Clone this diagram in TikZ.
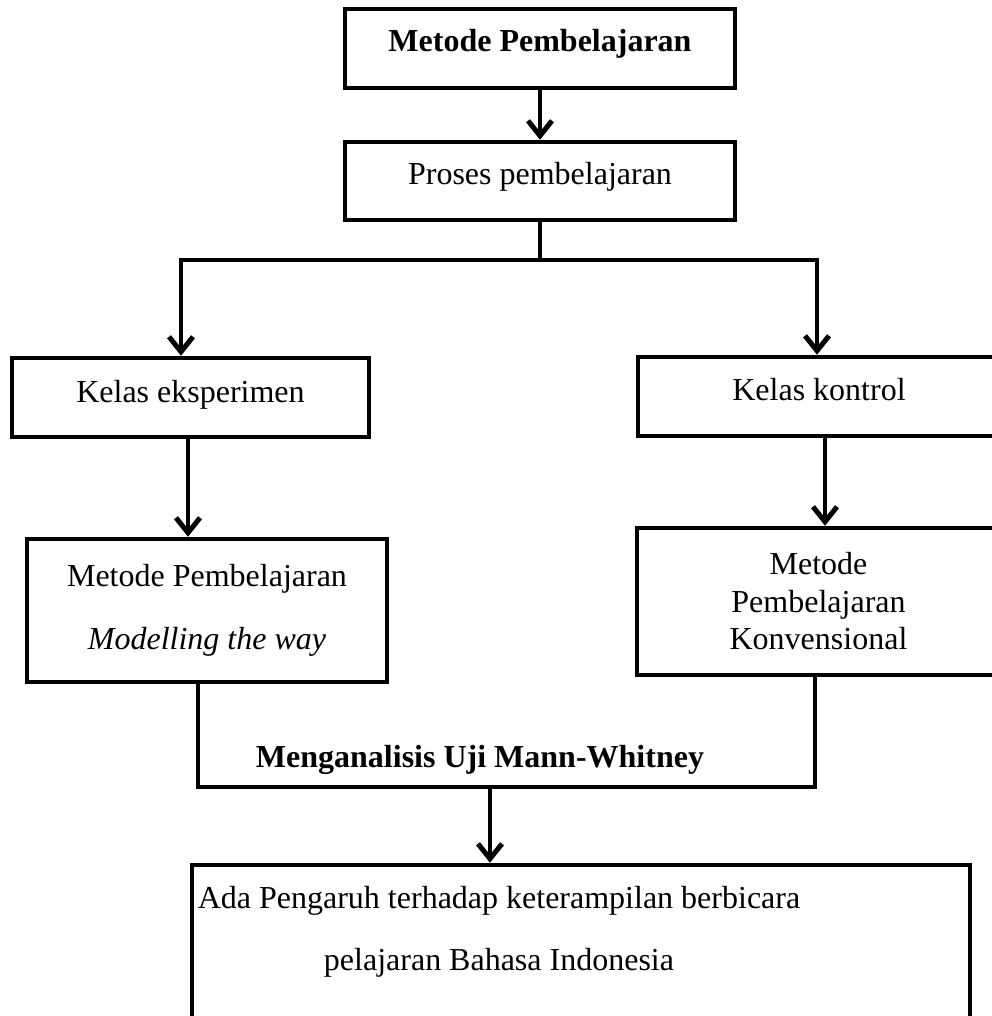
\documentclass[tikz,border=0pt]{standalone}
\usepackage{fontspec}
\setmainfont{Liberation Serif}
\usetikzlibrary{arrows.meta}
\begin{document}
\begin{tikzpicture}[x=1pt,y=-1pt,
  txt/.style={font=\fontsize{32}{37.5}\selectfont},
  btxt/.style={font=\bfseries\fontsize{32}{37.5}\selectfont},
  box/.style={draw,line width=4.5pt,rectangle,inner sep=0pt,align=center,txt},
  conn/.style={line width=4.5pt},
  arr/.style={conn,-{Straight Barb[length=15pt,width=24pt,line width=5pt]}},
  lbl/.style={inner sep=0pt,align=center}]
\useasboundingbox (0,0) rectangle (991,1016);

% boxes
\node[box,btxt,minimum width=390pt,minimum height=79pt,text height=22pt,text depth=15pt] (top) at (540,48.5) {Metode Pembelajaran};
\node[box,minimum width=390pt,minimum height=78pt,text height=22pt,text depth=14pt] (proses) at (540,181) {Proses pembelajaran};
\node[box,minimum width=357pt,minimum height=79pt,text height=22pt,text depth=13pt] (kelasE) at (190.5,397.5) {Kelas eksperimen};
\node[box,minimum width=362pt,minimum height=79pt,text height=22pt,text depth=15pt] (kelasK) at (819,396.5) {Kelas kontrol};
\node[box,minimum width=360pt,minimum height=143pt] (metode) at (207,610.5) {Metode Pembelajaran\\[25.5pt]\textit{Modelling the way}};
\node[box,minimum width=363pt,minimum height=147pt] (konv) at (818.5,601.5) {Metode\\Pembelajaran\\Konvensional};
\node[box,minimum width=778pt,minimum height=165pt] (res) at (581,947.5) {};
\node[lbl,txt] (restext) at (499,931.5) {Ada Pengaruh terhadap keterampilan berbicara\\[24.5pt]pelajaran Bahasa Indonesia};
\node[lbl,btxt,anchor=base] (mw) at (480,767) {Menganalisis Uji Mann-Whitney};

% junction coordinates
\coordinate (jm) at (540,260);
\coordinate (aL) at (181,260);
\coordinate (aR) at (817,260);
\coordinate (cE) at (188,0);
\coordinate (cK) at (825,0);
\coordinate (uBL) at (198,787);
\coordinate (uBR) at (815,787);
\coordinate (aB) at (490,787);

% connectors
\draw[arr] (top.south) -- (proses.north);
\draw[conn] (proses.south) -- (jm);
\draw[arr] (jm) -- (aL) -- (aL |- kelasE.north);
\draw[arr] (jm) -- (aR) -- (aR |- kelasK.north);
\draw[arr] (kelasE.south -| cE) -- (metode.north -| cE);
\draw[arr] (kelasK.south -| cK) -- (konv.north -| cK);
\draw[conn] (metode.south -| uBL) -- (uBL) -- (uBR) -- (konv.south -| uBR);
\draw[arr] (aB) -- (res.north -| aB);
\end{tikzpicture}
\end{document}
